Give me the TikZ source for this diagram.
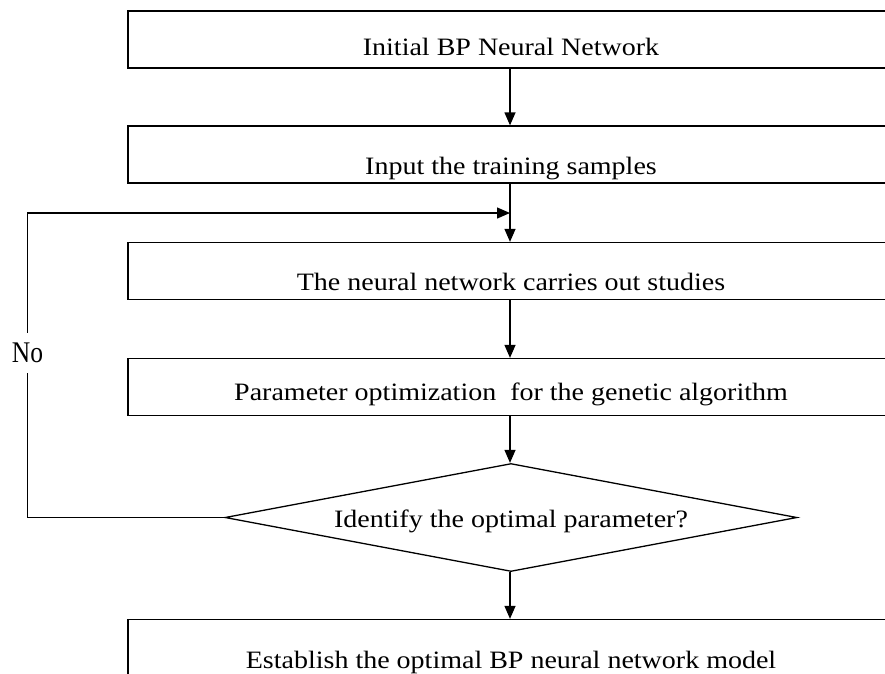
\documentclass[tikz,border=0pt]{standalone}
\usepackage{fontspec}
\setmainfont{Liberation Serif}
\newfontfamily\widefont[FakeStretch=1.12]{Liberation Serif}
\newfontfamily\narrowfont[FakeStretch=0.85]{Liberation Serif}
\usetikzlibrary{arrows.meta,shapes.geometric}
\begin{document}
\begin{tikzpicture}[x=1pt,y=-1pt,
  flowbox/.style={draw, line width=1.3pt, minimum width=766pt, minimum height=57pt, inner sep=0pt},
  decision/.style={draw, diamond, line width=1.3pt, minimum width=572pt, minimum height=108pt, inner sep=0pt},
  txt/.style={anchor=base, inner sep=0pt, font=\widefont\fontsize{25}{29}\selectfont},
  conn/.style={line width=1.3pt, -{Triangle[length=13pt,width=11pt]}},
  plain/.style={line width=1.3pt}]
\useasboundingbox (0,0) rectangle (885,673);
\clip (0,0) rectangle (885,673);
\fill[white] (0,0) rectangle (885,673);
\node[flowbox] (b1) at (511,39.5) {};
\node[txt] (t1) at (511,55) {Initial BP Neural Network};
\node[flowbox] (b2) at (511,154.5) {};
\node[txt] (t2) at (511,174) {Input the training samples};
\node[flowbox] (b3) at (511,271) {};
\node[txt] (t3) at (511,290) {The neural network carries out studies};
\node[flowbox] (b4) at (511,387) {};
\node[txt] (t4) at (511,400) {Parameter optimization\ \ for the genetic algorithm};
\node[decision] (d) at (511,517.5) {};
\node[txt] (t5) at (511,527) {Identify the optimal parameter?};
\node[flowbox] (b5) at (511,648) {};
\node[txt] (t6) at (511,668) {Establish the optimal BP neural network model};
\coordinate (loopL) at (27.5,517.5);
\coordinate (loopT) at (27.5,213);
\coordinate (join) at (510,213);
\draw[conn] (b1.south -| join) -- (b2.north -| join);
\draw[conn] (b2.south -| join) -- (b3.north -| join);
\draw[conn] (b3.south -| join) -- (b4.north -| join);
\draw[conn] (b4.south -| join) -- (d.north -| join);
\draw[conn] (d.south -| join) -- (b5.north -| join);
\draw[conn] (d.west) -- (loopL) -- (loopT) -- (join);
\node[fill=white, inner sep=0pt, minimum height=40pt, font=\narrowfont\fontsize{30}{34}\selectfont] (no) at (27.5,353) {No};
\end{tikzpicture}
\end{document}
